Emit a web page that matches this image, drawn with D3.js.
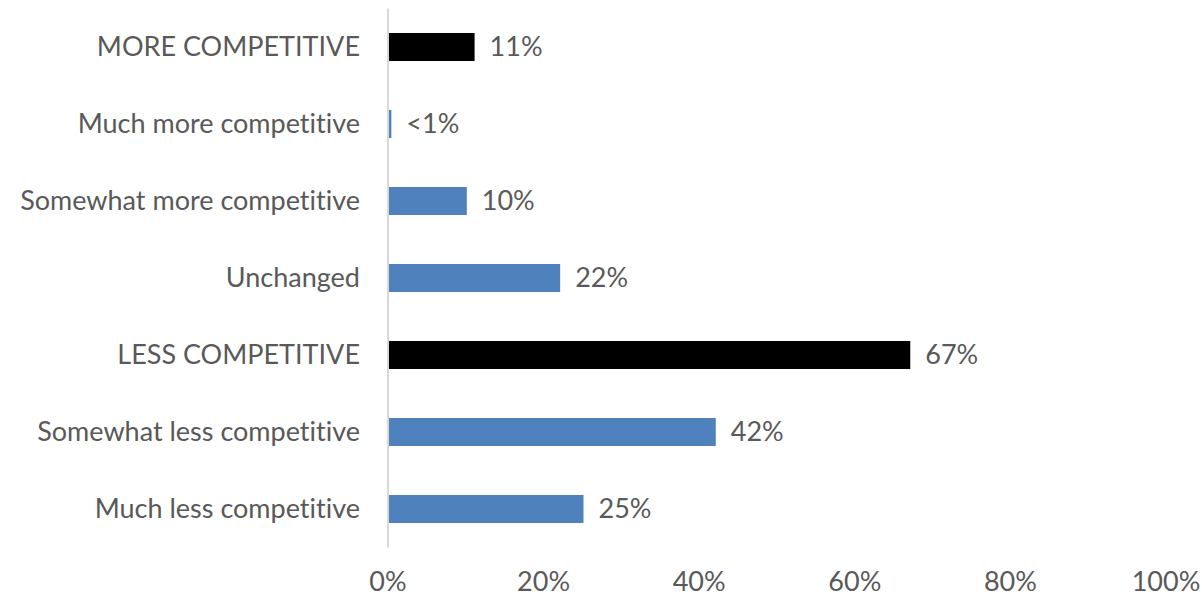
<!DOCTYPE html>
<html>
<head>
<meta charset="utf-8">
<script src="https://cdn.jsdelivr.net/npm/d3@7"></script>
<style>
  html, body { margin: 0; padding: 0; background: #ffffff; }
  svg { display: block; }
  text { font-family: Lato, "Open Sans", sans-serif; fill: #595959; font-variant-ligatures: none; font-feature-settings: "liga" 0; }
</style>
</head>
<body>
<svg id="chart" width="1202" height="599"></svg>
<script>
// Survey responses: change in competitiveness
const categories = [
  "MORE COMPETITIVE",
  "Much more competitive",
  "Somewhat more competitive",
  "Unchanged",
  "LESS COMPETITIVE",
  "Somewhat less competitive",
  "Much less competitive"
];
const values = [11, 0.3, 10, 22, 67, 42, 25];
const valueLabels = ["11%", "<1%", "10%", "22%", "67%", "42%", "25%"];
const isTotal = [true, false, false, false, true, false, false];
const xTicks = [0, 20, 40, 60, 80, 100];

const rows = categories.map((c, i) => ({ cat: c, v: values[i], label: valueLabels[i], total: isTotal[i] }));

const svg = d3.select("#chart");
const x = d3.scaleLinear().domain([0, 100]).range([388, 1166]);
const y = d3.scaleBand().domain(categories).range([8.5, 547.5])
  .paddingInner(0.636).paddingOuter(0.318);

const FS = 27;

// category axis line
svg.append("line")
  .attr("x1", x(0)).attr("x2", x(0))
  .attr("y1", y.range()[0]).attr("y2", y.range()[1])
  .attr("stroke", "#d9d9d9").attr("stroke-width", 2);

// bars
svg.selectAll("rect.bar").data(rows).enter().append("rect")
  .attr("class", "bar")
  .attr("x", x(0) + 1)
  .attr("y", d => y(d.cat))
  .attr("width", d => Math.max(1, x(d.v) - x(0)))
  .attr("height", y.bandwidth())
  .attr("fill", d => d.total ? "#000000" : "#4f81bd");

// value labels
svg.selectAll("text.val").data(rows).enter().append("text")
  .attr("class", "val")
  .attr("x", d => x(d.v) + 16)
  .attr("y", d => y(d.cat) + y.bandwidth() / 2)
  .attr("dy", "0.35em")
  .attr("font-size", FS)
  .text(d => d.label);

// category labels
svg.selectAll("text.cat").data(rows).enter().append("text")
  .attr("class", "cat")
  .attr("x", 360)
  .attr("y", d => y(d.cat) + y.bandwidth() / 2)
  .attr("dy", "0.35em")
  .attr("text-anchor", "end")
  .attr("font-size", FS)
  .text(d => d.cat);

// x axis tick labels
svg.selectAll("text.tick").data(xTicks).enter().append("text")
  .attr("class", "tick")
  .attr("x", d => x(d))
  .attr("y", 582)
  .attr("dy", "0.35em")
  .attr("text-anchor", "middle")
  .attr("font-size", FS)
  .text(d => d + "%");
</script>
</body>
</html>
